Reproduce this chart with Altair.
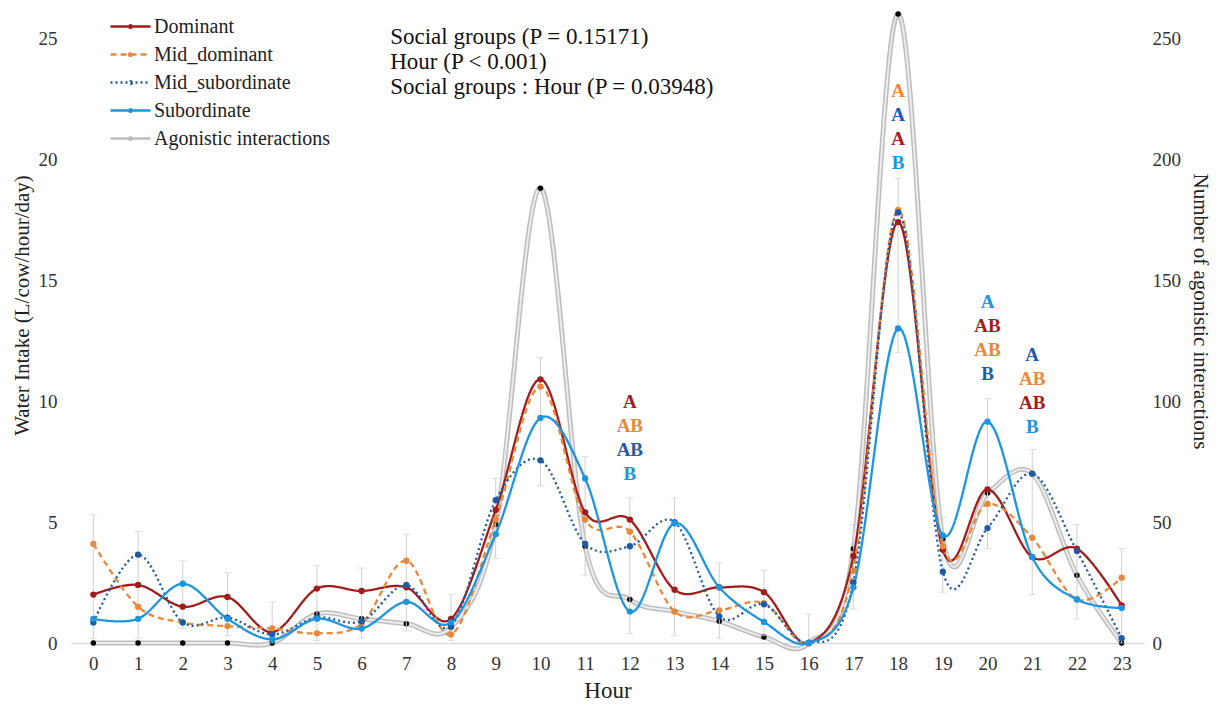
import altair as alt
import pandas as pd

hours = list(range(24))

dominant = [2.0, 2.4, 1.5, 1.9, 0.45, 2.25, 2.15, 2.3, 1.0, 5.5, 10.9, 5.4,
            5.1, 2.2, 2.3, 2.1, 0.0, 3.6, 17.4, 3.85, 6.35, 3.55, 3.9, 1.55]
mid_dominant = [4.1, 1.5, 0.85, 0.7, 0.6, 0.4, 0.8, 3.4, 0.35, 5.1, 10.6, 5.1,
                4.6, 1.3, 1.35, 1.65, 0.0, 3.0, 17.9, 4.0, 5.75, 4.35, 1.8, 2.7]
mid_subordinate = [0.85, 3.65, 0.85, 1.05, 0.35, 1.05, 0.9, 2.4, 0.7, 5.9, 7.55, 4.1,
                   4.0, 5.0, 1.1, 1.6, 0.0, 2.5, 17.8, 2.95, 4.75, 7.0, 3.8, 0.2]
subordinate = [1.0, 1.0, 2.45, 1.0, 0.15, 1.0, 0.6, 1.7, 0.85, 4.5, 9.3, 6.8,
               1.3, 4.95, 2.3, 0.87, 0.0, 2.3, 13.0, 4.45, 9.15, 3.55, 1.8, 1.45]
agonistic = [0, 0, 0, 0, 0, 12, 10, 8, 6.5, 49, 188, 40,
             18, 13, 9, 2.5, 0, 39, 260, 43, 62, 70, 28, 0]

# composite spread of the grey whiskers at each hour (left axis units)
whisker_low = [0.2, 0.2, 0.6, 0.3, 0.0, 0.1, 0.2, 0.5, 0.1, 3.5, 6.5, 2.8,
               0.4, 0.3, 0.2, 0.3, 0.0, 1.4, 12.0, 2.1, 3.9, 2.0, 1.0, 0.0]
whisker_high = [5.3, 4.6, 3.4, 2.9, 1.7, 3.2, 3.1, 4.5, 2.0, 6.8, 11.8, 7.7,
                6.0, 6.0, 3.3, 3.0, 1.2, 4.9, 19.2, 5.2, 10.1, 8.0, 4.9, 3.9]

series_names = ["Dominant", "Mid_dominant", "Mid_subordinate", "Subordinate",
                "Agonistic interactions"]
series_colors = ["#a31c1c", "#e8893a", "#1f5aa6", "#1b95e0", "#bdbdbd"]
series_dashes = [[1, 0], [6, 4], [2, 3], [1, 0], [1, 0]]
point_colors = ["#a31c1c", "#e8893a", "#1f5aa6", "#1b95e0"]

# significance letters
letter_hours = [12, 12, 12, 12, 18, 18, 18, 18, 20, 20, 20, 20, 21, 21, 21, 21]
letter_text = ["A", "AB", "AB", "B", "A", "A", "A", "B",
               "A", "AB", "AB", "B", "A", "AB", "AB", "B"]
letter_series = ["Dominant", "Mid_dominant", "Mid_subordinate", "Subordinate",
                 "Mid_dominant", "Mid_subordinate", "Dominant", "Subordinate",
                 "Subordinate", "Dominant", "Mid_dominant", "Mid_subordinate",
                 "Mid_subordinate", "Mid_dominant", "Dominant", "Subordinate"]
letter_top = {12: 9.95, 18: 22.8, 20: 14.1, 21: 11.9}
letter_step = 0.99

stat_lines = ["Social groups (P = 0.15171)", "Hour (P < 0.001)",
              "Social groups : Hour (P = 0.03948)"]
stat_x = 6.64
stat_top = 25.05
stat_step = 1.03

FONT = "Liberation Serif"

water_series = [dominant, mid_dominant, mid_subordinate, subordinate]
rows = []
for name, col, vals in zip(series_names[:4], point_colors, water_series):
    for h, v in zip(hours, vals):
        rows.append({"hour": h, "value": v, "series": name, "pc": col})
water = pd.DataFrame(rows)

ag = pd.DataFrame({"hour": hours, "count": agonistic,
                   "series": "Agonistic interactions"})
err = pd.DataFrame({"hour": hours, "lo": whisker_low, "hi": whisker_high})

color_of = dict(zip(series_names, series_colors))
lrows = []
counters = {}
for h, t, s in zip(letter_hours, letter_text, letter_series):
    i = counters.get(h, 0)
    counters[h] = i + 1
    lrows.append({"hour": h, "y": letter_top[h] - i * letter_step, "t": t,
                  "c": color_of[s]})
letters = pd.DataFrame(lrows)

stats = pd.DataFrame({"x": stat_x,
                      "y": [stat_top - i * stat_step for i in range(len(stat_lines))],
                      "t": stat_lines})

xscale = alt.Scale(domain=[-0.5, 23.5], nice=False, zero=False)
xaxis = alt.Axis(values=hours, format="d", title="Hour", ticks=False,
                 domain=True, domainColor="#d9d9d9", domainWidth=1.5,
                 labelPadding=11, titlePadding=6, titleFontSize=23, grid=False)
x = alt.X("hour:Q", scale=xscale, axis=xaxis)

yl_scale = alt.Scale(domain=[0, 26], nice=False)
yl_axis = alt.Axis(orient="left", values=[0, 5, 10, 15, 20, 25],
                   title="Water Intake (L/cow/hour/day)", ticks=False,
                   domain=False, grid=False, labelPadding=14, titlePadding=6,
                   titleFontSize=21, titleY=291)

# legend glyph: a 4-unit wide stroke with a small dot in the middle
LEGEND_GLYPH = ("M-2,0L2,0M0.13,0A0.13,0.13 0 1,1 -0.13,0"
                "A0.13,0.13 0 1,1 0.13,0")

color_scale = alt.Scale(domain=series_names, range=series_colors)
dash_scale = alt.Scale(domain=series_names, range=series_dashes)
legend = alt.Legend(title=None, orient="none", legendX=48, legendY=1,
                    symbolType=LEGEND_GLYPH, symbolSize=400,
                    symbolStrokeWidth=2.5,
                    labelFont=FONT, labelFontSize=20, labelColor="#222",
                    labelLimit=0, rowPadding=6, labelOffset=12)

errbars = alt.Chart(err).mark_rule(color="#d0d0d0", strokeWidth=1).encode(
    x=x, y=alt.Y("lo:Q", scale=yl_scale, axis=yl_axis), y2="hi:Q")
cap_hi = alt.Chart(err).mark_tick(color="#d0d0d0", orient="horizontal",
                                  size=7, thickness=1).encode(
    x=x, y=alt.Y("hi:Q", scale=yl_scale, axis=yl_axis))
cap_lo = alt.Chart(err).mark_tick(color="#d0d0d0", orient="horizontal",
                                  size=7, thickness=1).encode(
    x=x, y=alt.Y("lo:Q", scale=yl_scale, axis=yl_axis))

lines = alt.Chart(water).mark_line(interpolate="cardinal", strokeWidth=2.3).encode(
    x=x, y=alt.Y("value:Q", scale=yl_scale, axis=yl_axis),
    color=alt.Color("series:N", scale=color_scale, legend=legend,
                    sort=series_names),
    strokeDash=alt.StrokeDash("series:N", scale=dash_scale, legend=legend,
                              sort=series_names),
    detail="series:N")
points = alt.Chart(water).mark_circle(size=40, opacity=1).encode(
    x=x, y=alt.Y("value:Q", scale=yl_scale, axis=yl_axis),
    color=alt.Color("pc:N", scale=None))

letter_layer = alt.Chart(letters).mark_text(font=FONT, fontSize=19,
                                            fontWeight="bold",
                                            baseline="middle").encode(
    x=x, y=alt.Y("y:Q", scale=yl_scale, axis=yl_axis), text="t:N",
    color=alt.Color("c:N", scale=None))

stat_layer = alt.Chart(stats).mark_text(font=FONT, fontSize=23, align="left",
                                        baseline="middle", color="#111").encode(
    x=alt.X("x:Q", scale=xscale, axis=xaxis),
    y=alt.Y("y:Q", scale=yl_scale, axis=yl_axis), text="t:N")

left = alt.layer(errbars, cap_hi, cap_lo, lines, points, letter_layer, stat_layer)

yr_scale = alt.Scale(domain=[0, 260], nice=False)
yr_axis = alt.Axis(orient="right", values=[0, 50, 100, 150, 200, 250],
                   title="Number of agonistic interactions", ticks=False,
                   domain=False, grid=False, labelPadding=8, titlePadding=9,
                   titleFontSize=21, titleY=297)

ag_outer = alt.Chart(ag).mark_line(interpolate="cardinal", strokeWidth=5).encode(
    x=x, y=alt.Y("count:Q", scale=yr_scale, axis=yr_axis),
    color=alt.Color("series:N", scale=color_scale, legend=legend,
                    sort=series_names),
    strokeDash=alt.StrokeDash("series:N", scale=dash_scale, legend=legend,
                              sort=series_names))
ag_inner = alt.Chart(ag).mark_line(interpolate="cardinal", strokeWidth=2,
                                   color="#ececec").encode(
    x=x, y=alt.Y("count:Q", scale=yr_scale, axis=yr_axis))
ag_pts = alt.Chart(ag).mark_circle(size=30, color="#000", opacity=1).encode(
    x=x, y=alt.Y("count:Q", scale=yr_scale, axis=yr_axis))

right = alt.layer(ag_outer, ag_inner, ag_pts)

chart = alt.layer(right, left).resolve_scale(y="independent").properties(
    width=1073, height=629,
    padding={"left": 63, "top": 6, "right": 70, "bottom": 60},
    autosize=alt.AutoSizeParams(type="none"),
    background="white",
).configure_view(stroke=None).configure_axis(
    labelFont=FONT, labelFontSize=19, labelColor="#333",
    titleFont=FONT, titleFontSize=21, titleFontWeight="normal", titleColor="#222",
)

chart.save("out.html", embed_options={"renderer": "svg", "actions": False})
